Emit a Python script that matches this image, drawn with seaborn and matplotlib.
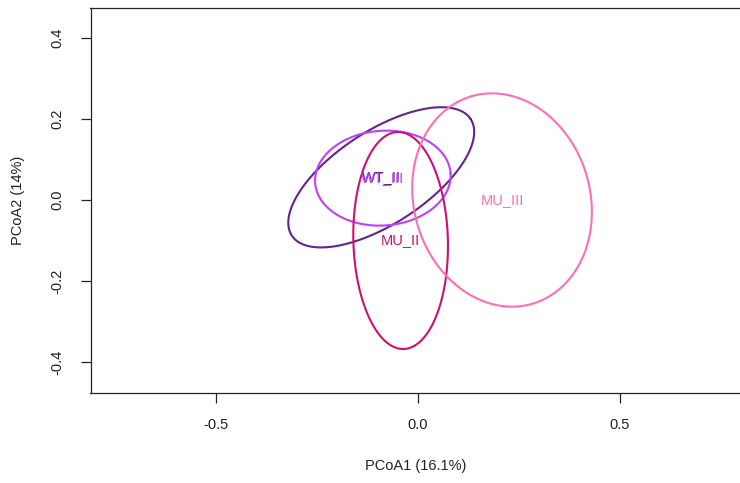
import numpy as np
import pandas as pd
import matplotlib
matplotlib.use("Agg")
import matplotlib.pyplot as plt
import seaborn as sns

# Group dispersion ellipses on the first two PCoA axes
groups = ["WT_II", "WT_III", "MU_II", "MU_III"]
center_x = [-0.091, -0.087, -0.043, 0.208]
center_y = [0.056, 0.054, -0.100, 0.000]
semi_major = [0.264, 0.168, 0.268, 0.267]
semi_minor = [0.115, 0.117, 0.117, 0.218]
angle_deg = [33.0, 4.0, 91.6, 106.6]
colors = ["#68228B", "#BF3EFF", "#CD1076", "#FF6EB4"]

x_ticks = [-0.5, 0.0, 0.5]
y_ticks = [-0.4, -0.2, 0.0, 0.2, 0.4]
x_label = "PCoA1 (16.1%)"
y_label = "PCoA2 (14%)"

# Build the outline of each ellipse from its centre, axes and rotation
t = np.linspace(0, 2 * np.pi, 361)
frames = []
for g, cx, cy, a, b, ang in zip(groups, center_x, center_y, semi_major, semi_minor, angle_deg):
    th = np.deg2rad(ang)
    ex = cx + a * np.cos(t) * np.cos(th) - b * np.sin(t) * np.sin(th)
    ey = cy + a * np.cos(t) * np.sin(th) + b * np.sin(t) * np.cos(th)
    frames.append(pd.DataFrame({"x": ex, "y": ey, "group": g}))
outline = pd.concat(frames, ignore_index=True)

sns.set_style("white")
plt.rcParams["font.family"] = ["Liberation Sans", "DejaVu Sans"]

fs = 10.5
fig = plt.figure(figsize=(7.4, 4.83), dpi=100)
ax = fig.add_axes([90.5 / 740, (483 - 392.7) / 483, 1 - 90.5 / 740, (392.7 - 7.5) / 483])

sns.lineplot(data=outline, x="x", y="y", hue="group", units="group", estimator=None,
             sort=False, palette=dict(zip(groups, colors)), hue_order=groups,
             linewidth=1.5, legend=False, ax=ax)

for g, cx, cy, c in zip(groups, center_x, center_y, colors):
    ax.text(cx, cy, g, color=c, fontsize=fs, ha="center", va="center")

ax.set_xlim(-0.8106, 0.797)
ax.set_ylim(-0.4758, 0.4753)
ax.set_xticks(x_ticks)
ax.set_xticklabels([f"{v:.1f}" for v in x_ticks])
ax.set_yticks(y_ticks)
ax.set_yticklabels([f"{v:.1f}" for v in y_ticks], rotation=90, va="center")
ax.tick_params(axis="both", direction="out", length=7, width=0.9, color="#222222",
               labelsize=fs, labelcolor="#222222", left=True, bottom=True)
ax.tick_params(axis="x", pad=11)
ax.tick_params(axis="y", pad=12)
ax.set_xlabel(x_label, fontsize=fs, color="#222222", labelpad=20)
ax.set_ylabel(y_label, fontsize=fs, color="#222222", labelpad=18)

for side in ["left", "bottom", "top"]:
    ax.spines[side].set_visible(True)
    ax.spines[side].set_color("#222222")
    ax.spines[side].set_linewidth(0.9)
ax.spines["right"].set_visible(False)

fig.savefig("out.png", dpi=100)
